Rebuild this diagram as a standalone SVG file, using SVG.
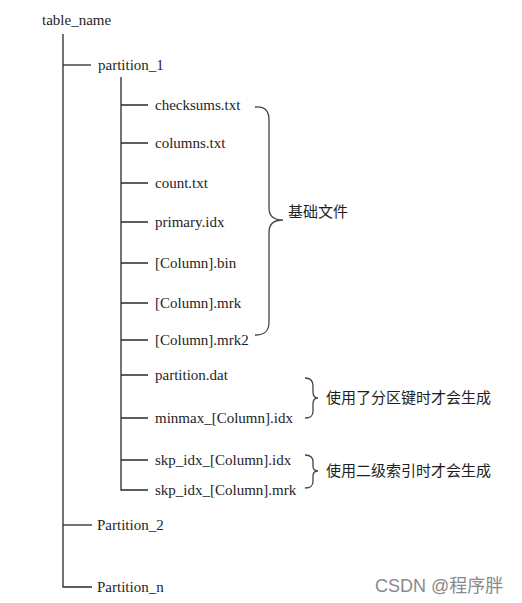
<svg xmlns="http://www.w3.org/2000/svg" width="522" height="603" viewBox="0 0 522 603">
<style>
.ln{stroke:#2a2a2a;stroke-width:1.3;fill:none}
.br{stroke:#444;stroke-width:1.3;fill:none}
.t{font-family:"Liberation Serif","Times New Roman",serif;font-size:15px;fill:#1e1e1e}
.c{font-family:"Liberation Serif","Noto Sans CJK SC",serif;font-size:15px;fill:#1e1e1e}
.wm{font-family:"Liberation Sans","Noto Sans CJK SC",sans-serif;font-size:18px;fill:#8a8a8a}
</style>
<rect width="522" height="603" fill="#fff"/>
<g id="connectors">
<path class="ln" d="M63,34 V587 H92"/>
<path class="ln" d="M63,65 H91"/>
<path class="ln" d="M63,525 H92"/>
<path class="ln" d="M121,77 V490 H148"/>
<path class="ln" d="M121,105 H148 M121,143 H148 M121,183 H148 M121,222 H148 M121,263 H148 M121,303 H148 M121,340 H148 M121,375 H148 M121,418 H148 M121,460 H148"/>
</g>
<g id="braces">
<path class="br" d="M255,107 C265,106 269,111 269,120 L269,208 C269,216 274,220 283,220 C274,220 269,224 269,232 L269,322 C269,331 265,335 255,335"/>
<path class="br" d="M305,378 C311,378 313,381 313,386 L313,392 C313,396 315,398 318,398 C315,398 313,400 313,404 L313,411 C313,416 311,418 305,418"/>
<path class="br" d="M305,455 C311,455 313,458 313,462 L313,466 C313,469 315,471 318,471 C315,471 313,473 313,476 L313,481 C313,486 311,488 305,488"/>
</g>
<g id="table_name"><text class="t" x="42" y="25">table_name</text></g>
<g id="partition_1"><text class="t" x="98" y="70">partition_1</text></g>
<g id="checksums"><text class="t" x="155" y="110">checksums.txt</text></g>
<g id="columns"><text class="t" x="155" y="148">columns.txt</text></g>
<g id="count"><text class="t" x="155" y="188">count.txt</text></g>
<g id="primary"><text class="t" x="155" y="227">primary.idx</text></g>
<g id="column_bin"><text class="t" x="155" y="268">[Column].bin</text></g>
<g id="column_mrk"><text class="t" x="155" y="308">[Column].mrk</text></g>
<g id="column_mrk2"><text class="t" x="155" y="345">[Column].mrk2</text></g>
<g id="partition_dat"><text class="t" x="155" y="380">partition.dat</text></g>
<g id="minmax"><text class="t" x="155" y="423">minmax_[Column].idx</text></g>
<g id="skp_idx"><text class="t" x="155" y="465">skp_idx_[Column].idx</text></g>
<g id="skp_mrk"><text class="t" x="155" y="495">skp_idx_[Column].mrk</text></g>
<g id="partition_2"><text class="t" x="97" y="530">Partition_2</text></g>
<g id="partition_n"><text class="t" x="97" y="592">Partition_n</text></g>
<g id="label_base"><text class="c" x="288" y="217">基础文件</text></g>
<g id="label_partition"><text class="c" x="326" y="403">使用了分区键时才会生成</text></g>
<g id="label_index"><text class="c" x="326" y="476">使用二级索引时才会生成</text></g>
<g id="watermark"><text class="wm" x="375" y="592">CSDN @程序胖</text></g>
</svg>
